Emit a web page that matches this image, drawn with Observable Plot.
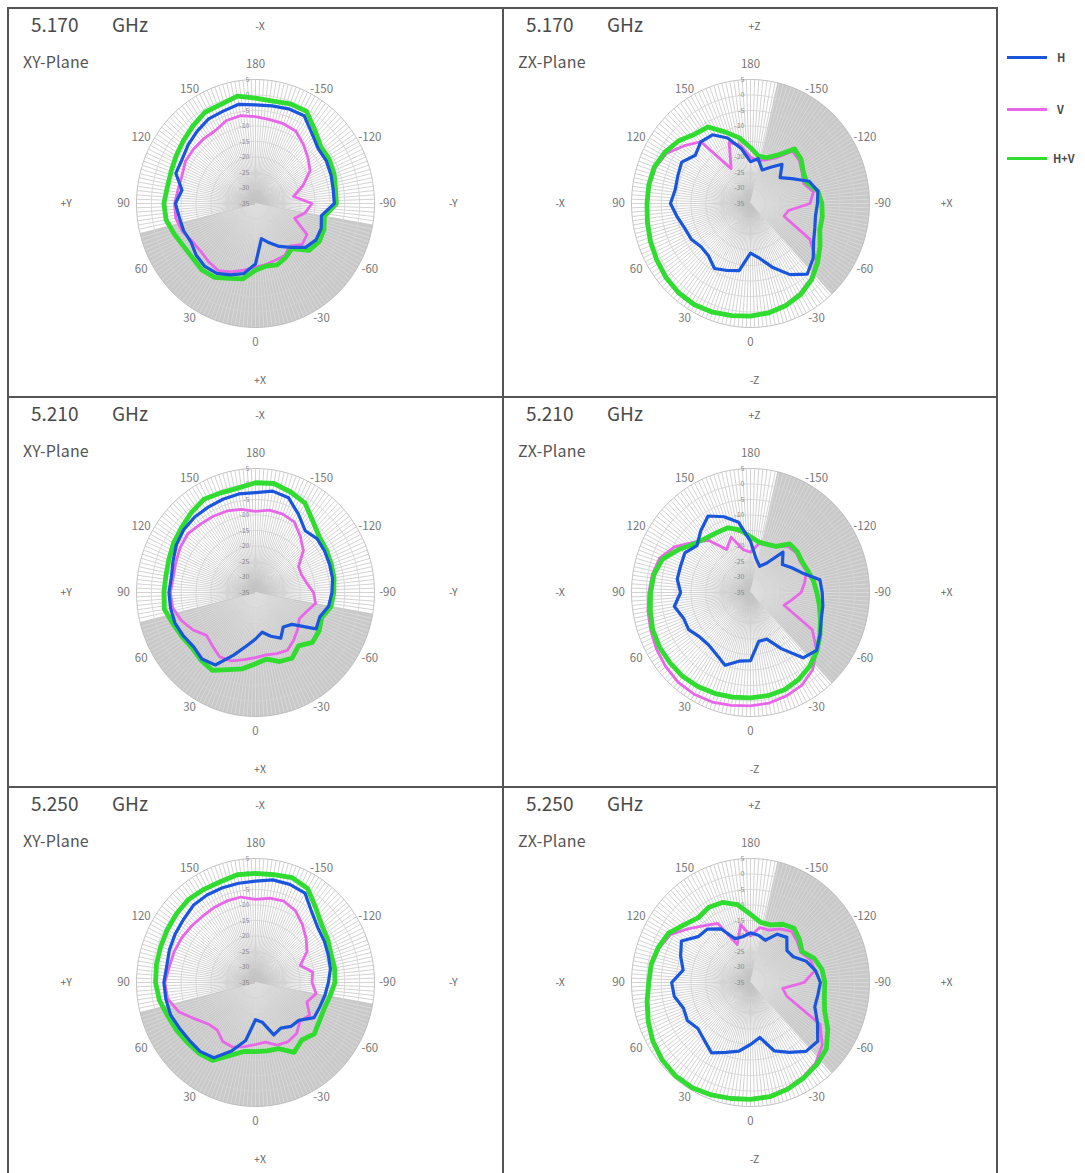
<!DOCTYPE html>
<html><head><meta charset="utf-8">
<script src="https://cdn.jsdelivr.net/npm/d3@7"></script>
<script src="https://cdn.jsdelivr.net/npm/@observablehq/plot@0.6"></script>
<style>
html,body{margin:0;padding:0;background:#fff;}
body{width:1085px;height:1173px;overflow:hidden;position:relative;font-family:"Noto Sans CJK JP","Noto Sans",sans-serif;color:#444;}
.panel{position:absolute;height:390px;overflow:hidden;}
.freq{position:absolute;left:23px;top:4px;font-size:19px;line-height:24px;color:#4a4a4a;}
.ghz{position:absolute;left:104px;top:4px;font-size:19px;line-height:24px;color:#4a4a4a;}
.plane{position:absolute;left:15px;top:42px;font-size:16px;line-height:22px;color:#555;letter-spacing:0.2px;}
.vline{position:absolute;width:2px;background:#555;}
.hline{position:absolute;height:2px;background:#555;}
.leg{position:absolute;left:1007px;width:78px;height:1px;font-size:11px;font-weight:bold;color:#4a4a4a;}
.leg span.sw{position:absolute;left:0;top:-1.5px;width:40px;height:3px;}
.leg span.tx{position:absolute;top:-8px;white-space:nowrap;line-height:16px;}
svg{position:absolute;left:0;top:0;}
</style></head><body>
<div id="root"></div>
<script>
// angle categories (degrees); 0 = bottom, 90 = left, 180 = top, -90 = right
const angles = [0,10,20,30,40,50,60,70,80,90,100,110,120,130,140,150,160,170,180,-170,-160,-150,-140,-130,-120,-110,-100,-90,-80,-70,-60,-50,-40,-30,-20,-10];
const radialTicks = [5,0,-5,-10,-15,-20,-25,-30,-35];
const angleTicks = [0,30,60,90,120,150,180,-150,-120,-90,-60,-30];
const seriesNames = ["H","V","H+V"];
const seriesColors = ["#1a56db","#e866e8","#2fdc2f"];
const freqs = ["5.170","5.210","5.250"];
const planes = ["XY-Plane","ZX-Plane"];
const xyDirs = ["-X","+X","+Y","-Y"];
const zxDirs = ["+Z","-Z","-X","+X"];
const xyShade = [76,-80];
const zxShade = [-167,-43];

// 5.170 GHz XY
const h_5170_xy  = [-15.5,-12,-10.5,-9,-8.5,-9,-10,-9.3,-9,-8.1,-9.9,-6.5,-6.5,-5.5,-4.5,-3.5,-3.3,-2.5,-3.2,-3.0,-2.5,-2.3,-5.5,-7.5,-7.5,-8,-8.5,-8.5,-12.5,-11.5,-11.5,-13,-16.5,-19,-21.5,-23.5];
const v_5170_xy  = [-14.5,-13.2,-11.5,-10,-10.5,-11,-10.5,-8.8,-7.8,-7.8,-8.6,-8.7,-7.8,-7.8,-7.8,-7.9,-6.5,-6.2,-7,-7.5,-7.6,-8,-10,-12,-13.8,-18,-22,-16,-18,-21,-15,-14.5,-17,-15.5,-15.5,-15];
const hv_5170_xy = [-13.5,-10.3,-9.3,-7.5,-7.0,-7.5,-7.2,-6.0,-4.5,-4.2,-4.9,-4.8,-4.2,-3.4,-2.3,-1.0,-1.0,0.2,-1.0,-1.5,-0.8,-0.7,-4.0,-6.4,-6.4,-6.9,-7.7,-7.8,-11.5,-10.5,-10.3,-11.5,-16,-14.8,-13.9,-14.5];
// 5.170 GHz ZX
const h_5170_zx  = [-19,-13,-12,-10.8,-13,-13.3,-12,-11.5,-10,-8.1,-9.3,-9,-8.3,-10.8,-9,-9.4,-12.5,-17,-21.5,-20.3,-23.5,-21.5,-18.5,-22,-19,-14,-12,-12.5,-12.8,-12,-10.5,-7.5,-5.3,-8.5,-13,-17];
const v_5170_zx  = [1.2,1.6,2.2,2.6,2.5,2.0,1.3,0.6,0,-0.4,-0.5,-1.0,-2.5,-6,-9,-22,-14,-16,-20,-21,-20,-18,-13,-13.5,-15,-16,-13.5,-15,-22,-23,-12,-6,-3.4,-1.6,-0.3,0.6];
const hv_5170_zx = [1.3,1.7,2.3,2.7,2.6,2.1,1.4,0.8,0.2,-0.2,-0.3,-0.6,-1.8,-3.5,-5.8,-6.5,-10.5,-13.5,-17,-19.5,-19.3,-17,-12,-12.8,-14.5,-15,-12,-11,-10.5,-10.2,-8,-5.5,-3,-1.2,0,0.8];
// 5.210 GHz XY
const h_5210_xy  = [-20,-17.5,-13.5,-8,-7,-7.8,-7,-6.2,-6,-5.9,-6.3,-5.5,-4.3,-3.5,-3.2,-3.2,-3,-2.7,-2.8,-1.8,-2.5,-6,-9,-8,-8.2,-8.5,-8.7,-9.3,-10,-12,-11.5,-19,-20.5,-18,-20,-22];
const v_5210_xy  = [-14,-13,-11.5,-11,-12.5,-13.5,-10.8,-8.5,-6.7,-6.4,-6.9,-6.5,-5.8,-5.4,-6.2,-6.6,-7,-7.8,-8.8,-8,-8.1,-8.8,-11.5,-14,-18.3,-18.5,-17.5,-15.5,-14.5,-16.8,-18,-16.5,-15,-13.5,-14,-14.6];
const hv_5210_xy = [-12,-10,-8.5,-6,-6.5,-7.2,-6.5,-5.5,-3.9,-4.2,-4.4,-4,-3.2,-2.5,-1.4,-0.3,-0.8,-0.8,0.4,0.7,-0.5,-1.7,-5,-7,-7.5,-7.9,-8.2,-8.7,-9.2,-11.3,-10.3,-10,-12.5,-10.5,-11.3,-13.2];
// 5.210 GHz ZX
const h_5210_zx  = [-13,-12.5,-10,-12,-13,-12.7,-11,-11,-9,-11.5,-10,-10,-9.5,-11.5,-9,-6.5,-9,-12,-18.5,-24,-26,-24,-18,-21,-19,-16.5,-11.3,-10.9,-10.3,-9.7,-8,-6,-7.5,-14,-19,-19];
const v_5210_zx  = [1.6,2,2.6,2.9,2.8,2.2,1.5,0.7,0,-0.8,-1.5,-2.5,-5.5,-9.8,-13,-19,-16,-21,-22,-19,-18.5,-18,-15.5,-15,-15.5,-15,-16.5,-18,-21,-23,-11,-6,-2.5,-0.5,0.5,1.2];
const hv_5210_zx = [-1,-0.7,-0.3,0.1,0.4,0.3,0.3,0,-0.8,-1.4,-2,-3.5,-7.2,-10.5,-12,-12.6,-12.8,-14.5,-17,-18.5,-18.5,-17.8,-14.5,-14.5,-15,-14.5,-13.5,-12.7,-11.5,-10,-8,-5.8,-4,-2.6,-1.6,-1.2];
// 5.250 GHz XY
const h_5250_xy  = [-23,-16,-11.5,-7,-6,-6,-5.5,-4.6,-4.4,-4.2,-4.7,-4.2,-3.8,-3.4,-2.5,-2.4,-2.5,-2.5,-2.3,-1.4,-1.3,-1.7,-5.5,-7.6,-8.3,-9,-9.4,-10.5,-11.3,-12,-12.3,-16,-16.5,-18,-17,-22];
const v_5250_xy  = [-15,-14,-12.8,-13,-15,-14.2,-11.5,-7.5,-5,-4.5,-5.6,-5.9,-6.3,-6.8,-7.2,-7.1,-7,-7,-8.2,-7.4,-7.1,-8.2,-10.5,-12.8,-15,-19,-15.5,-16,-14.3,-16.6,-14,-15.5,-13.5,-13,-13.5,-15.5];
const hv_5250_xy = [-12.7,-12.4,-10,-6,-5.3,-5,-4.3,-3.6,-2.2,-1.4,-1.2,-1.1,-0.8,-0.4,0,-0.3,-0.4,0.3,0.2,0.3,1,0,-3.5,-6,-7,-8,-8,-8.3,-9.6,-10.4,-10.2,-9.2,-10.8,-9,-12.3,-12.6];
// 5.250 GHz ZX
const h_5250_zx  = [-15,-12.5,-11,-8.8,-10.8,-11.9,-10.5,-11,-9,-8.5,-12,-10,-8.2,-12,-12.5,-15,-20,-20,-19,-19.5,-20.5,-17,-16,-19,-18.4,-15,-12.8,-11.5,-12,-12,-9,-5.5,-6,-9,-11.5,-17];
const v_5250_zx  = [2.5,2.8,3.4,4,4.1,3.6,2.7,1.4,0.1,-1,-1.4,-2.4,-4,-8,-11,-13,-22,-16,-20,-17,-17,-15,-13.5,-14.5,-15.5,-13.5,-13,-17,-24,-22,-8,-3.5,-1,0.3,1.3,2.2];
const hv_5250_zx = [2.7,3,3.6,4.2,4.3,3.8,2.9,1.6,0.3,-0.8,-1.1,-2,-3.2,-6,-7.7,-7,-7.5,-9.5,-13,-15.3,-15.2,-13.3,-12.2,-13.5,-15,-12.2,-10.6,-10,-9.8,-8.5,-5,-1.7,-0.4,0.6,1.6,2.4];

const panels = [
  {row:0,col:0,freq:freqs[0],plane:planes[0],dirs:xyDirs,shade:xyShade,series:[h_5170_xy,v_5170_xy,hv_5170_xy]},
  {row:0,col:1,freq:freqs[0],plane:planes[1],dirs:zxDirs,shade:zxShade,series:[h_5170_zx,v_5170_zx,hv_5170_zx]},
  {row:1,col:0,freq:freqs[1],plane:planes[0],dirs:xyDirs,shade:xyShade,series:[h_5210_xy,v_5210_xy,hv_5210_xy]},
  {row:1,col:1,freq:freqs[1],plane:planes[1],dirs:zxDirs,shade:zxShade,series:[h_5210_zx,v_5210_zx,hv_5210_zx]},
  {row:2,col:0,freq:freqs[2],plane:planes[0],dirs:xyDirs,shade:xyShade,series:[h_5250_xy,v_5250_xy,hv_5250_xy]},
  {row:2,col:1,freq:freqs[2],plane:planes[1],dirs:zxDirs,shade:zxShade,series:[h_5250_zx,v_5250_zx,hv_5250_zx]},
];

const rMin = -35, rMax = 5;
const rad = db => Math.max(0, (db - rMin) / (rMax - rMin));
const px = (a, db) => -rad(db) * Math.sin(a * Math.PI / 180);
const py = (a, db) => -rad(db) * Math.cos(a * Math.PI / 180);
const norm = a => ((a % 360) + 540) % 360 - 180; // to [-180,180)
function inShade(a, [s0, s1]) {
  const lo = Math.min(s0, s1), hi = Math.max(s0, s1), b = norm(a);
  return b > lo && b < hi;
}

const colLeft = [8, 503], colWidth = [495, 494];
const rowTop = [8, 397, 787];
const CX = 247, CY = 195, RX = 119, RY = 124;
const LR = 132; // label radius in px

const root = document.getElementById("root");
const spokeAngles = d3.range(0, 360, 2);
const ringAngles = d3.range(0, 360, 2);
const ringLevels = radialTicks.filter(t => t > rMin);
const ringRows = ringLevels.flatMap(l => ringAngles.map(a => ({l, a})));
const otherTicks = angleTicks.filter(a => a !== 0 && a !== 180);

for (const p of panels) {
  const W = colWidth[p.col], H = 390;
  const div = document.createElement("div");
  div.className = "panel";
  div.style.left = colLeft[p.col] + "px";
  div.style.top = rowTop[p.row] + "px";
  div.style.width = W + "px";
  const [s0, s1] = p.shade;
  const shadePts = [{a: 0, db: rMin}].concat(d3.range(0, 61).map(i => ({a: s0 + (s1 - s0) * i / 60, db: rMax})));
  const lx = a => -Math.sin(a * Math.PI / 180) * LR / RX;
  const ly = a => -Math.cos(a * Math.PI / 180) * LR / RY;
  const marks = [
    Plot.line(shadePts, {x: d => px(d.a, d.db), y: d => py(d.a, d.db), fill: "#c9c9c9", stroke: "none", curve: "linear-closed"}),
    Plot.link(spokeAngles, {x1: () => 0, y1: () => 0, x2: a => px(a, rMax), y2: a => py(a, rMax),
      stroke: a => inShade(a, p.shade) ? "#dedede" : "#c4c4c4", strokeWidth: 0.75}),
    Plot.line(ringRows, {x: d => px(d.a, d.l), y: d => py(d.a, d.l), z: "l", curve: "linear-closed", stroke: d => d.l === rMax ? "#b5b5b5" : "#d3d3d3", strokeWidth: 0.8}),
    Plot.text(radialTicks, {x: () => 0, y: t => rad(t), text: t => String(t), textAnchor: "end", dx: -6, fontSize: 7, fill: "#8a8a8a"}),
    Plot.text(otherTicks, {x: lx, y: ly, text: a => String(a), fontSize: 11.5, fill: "#777"}),
    Plot.text(angleTicks.filter(a => a === 180), {x: lx, y: ly, text: a => String(a), fontSize: 11.5, fill: "#777", dy: -7}),
    Plot.text(angleTicks.filter(a => a === 0), {x: lx, y: ly, text: a => String(a), fontSize: 11.5, fill: "#777", dy: 7}),
    Plot.text([p.dirs[0]], {frameAnchor: "top", dy: 14, dx: 4, text: d => d, fontSize: 10.5, fill: "#666"}),
    Plot.text([p.dirs[1]], {frameAnchor: "bottom", dy: -15, dx: 4, text: d => d, fontSize: 10.5, fill: "#666"}),
    Plot.text([p.dirs[2]], {frameAnchor: "left", dx: 52, text: d => d, fontSize: 10.5, fill: "#666"}),
    Plot.text([p.dirs[3]], {frameAnchor: "right", dx: -(W - 449), text: d => d, fontSize: 10.5, fill: "#666"}),
  ];
  const widths = [3.2, 2.8, 4.8];
  // draw order: V underneath, then H+V, then H on top
  for (const si of [1, 2, 0]) {
    const rows = angles.map((a, i) => ({a, db: p.series[si][i]}));
    marks.push(Plot.line(rows, {x: d => px(d.a, d.db), y: d => py(d.a, d.db), curve: "linear-closed", stroke: seriesColors[si], strokeWidth: widths[si], strokeLinejoin: "round"}));
  }
  const svg = Plot.plot({
    width: W, height: H, margin: 0,
    x: {domain: [-1, 1], range: [CX - RX, CX + RX], axis: null},
    y: {domain: [-1, 1], range: [CY + RY, CY - RY], axis: null},
    style: {background: "transparent", fontFamily: "'Noto Sans CJK JP','Noto Sans',sans-serif", overflow: "visible"},
    marks
  });
  div.appendChild(svg);
  const f = document.createElement("div"); f.className = "freq"; f.textContent = p.freq; div.appendChild(f);
  const g = document.createElement("div"); g.className = "ghz"; g.textContent = "GHz"; div.appendChild(g);
  const pl = document.createElement("div"); pl.className = "plane"; pl.textContent = p.plane; div.appendChild(pl);
  root.appendChild(div);
}

// grid borders
for (const x of [7, 502, 996]) {
  const v = document.createElement("div"); v.className = "vline";
  v.style.left = x + "px"; v.style.top = "7px"; v.style.height = "1166px"; root.appendChild(v);
}
for (const y of [7, 396, 786]) {
  const h = document.createElement("div"); h.className = "hline";
  h.style.left = "7px"; h.style.top = y + "px"; h.style.width = "991px"; root.appendChild(h);
}

// legend
const legendY = [57, 109, 158];
seriesNames.forEach((n, i) => {
  const d = document.createElement("div"); d.className = "leg"; d.style.top = legendY[i] + "px";
  const sw = document.createElement("span"); sw.className = "sw"; sw.style.background = seriesColors[i]; d.appendChild(sw);
  const tx = document.createElement("span"); tx.className = "tx"; tx.style.left = (n === "H+V" ? 46 : 50) + "px"; tx.textContent = n; d.appendChild(tx);
  root.appendChild(d);
});
</script>
</body></html>
